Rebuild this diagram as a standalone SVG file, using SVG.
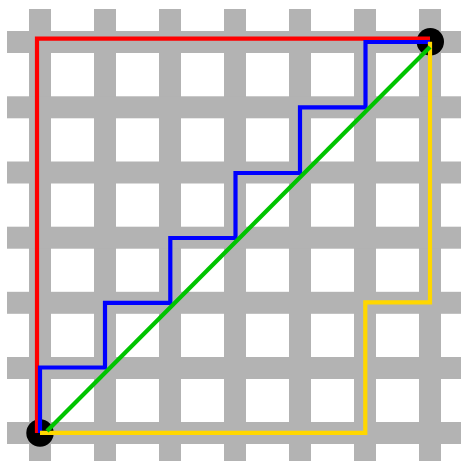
<svg xmlns="http://www.w3.org/2000/svg" width="461" height="461" viewBox="0 0 461 461">
<style>
.bar{fill:#b3b3b3}
.path{fill:none;stroke-width:4.2;stroke-linejoin:miter;stroke-linecap:butt}
</style>
<rect width="461" height="461" fill="#ffffff"/>
<g id="grid">
<rect class="bar" x="29" y="9" width="22" height="452"/>
<rect class="bar" x="94" y="9" width="22" height="452"/>
<rect class="bar" x="159" y="9" width="22" height="452"/>
<rect class="bar" x="224" y="9" width="22" height="452"/>
<rect class="bar" x="289" y="9" width="22" height="452"/>
<rect class="bar" x="354" y="9" width="22" height="452"/>
<rect class="bar" x="419" y="9" width="22" height="452"/>
<rect class="bar" x="7" y="31" width="454" height="22"/>
<rect class="bar" x="7" y="96.3" width="454" height="22"/>
<rect class="bar" x="7" y="161.5" width="454" height="22"/>
<rect class="bar" x="7" y="226.7" width="454" height="22"/>
<rect class="bar" x="7" y="291.8" width="454" height="22"/>
<rect class="bar" x="7" y="357" width="454" height="22"/>
<rect class="bar" x="7" y="422" width="454" height="22"/>
</g>
<g id="start"><circle cx="40" cy="433" r="13.7" fill="#000"/></g>
<g id="end"><circle cx="430.3" cy="41.8" r="13.7" fill="#000"/></g>
<g id="connectors">
<path class="path" stroke="#ff0000" d="M37,433 V38.7 H430"/>
<path class="path" stroke="#0000ff" d="M40,433 V367.5 H105 V302.8 H170.3 V238 H235.5 V173 H300 V107.3 H365.5 V42 H430"/>
<path class="path" stroke="#ffd700" d="M40,432.8 H365.3 V302.3 H430 V41.7"/>
<path class="path" stroke="#00c400" d="M47,431 L430,47"/>
</g>
</svg>
